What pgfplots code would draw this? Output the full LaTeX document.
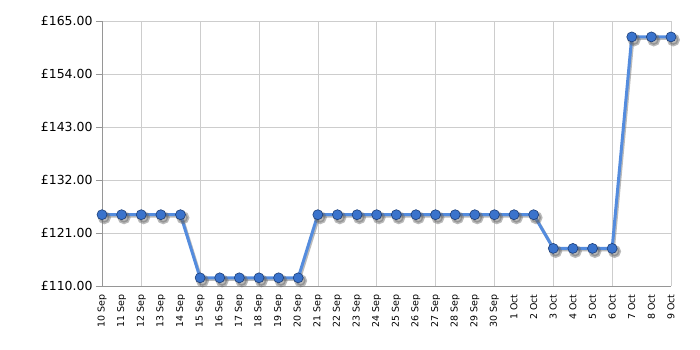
\documentclass[border=0pt]{standalone}
\usepackage{pgfplots}
\pgfplotsset{compat=1.18}
\usepackage{fontspec}
\setmainfont{DejaVu Sans}
\definecolor{linec}{RGB}{84,140,222}
\definecolor{markc}{RGB}{58,115,204}
\definecolor{markd}{RGB}{28,62,120}
\definecolor{axc}{RGB}{150,150,150}
\definecolor{gridc}{RGB}{205,205,205}
\pgfplotstableread{
x y
0 124.8
1 124.8
2 124.8
3 124.8
4 124.8
5 111.7
6 111.7
7 111.7
8 111.7
9 111.7
10 111.7
11 124.8
12 124.8
13 124.8
14 124.8
15 124.8
16 124.8
17 124.8
18 124.8
19 124.8
20 124.8
21 124.8
22 124.8
23 117.8
24 117.8
25 117.8
26 117.8
27 161.7
28 161.7
29 161.7
}\pricedata
\begin{document}
\begin{tikzpicture}
\useasboundingbox (-102bp,-64bp) rectangle (598bp,286bp);
\begin{axis}[
  scale only axis,
  width=569bp, height=265bp,
  xmin=0, xmax=29, ymin=110, ymax=165,
  axis line style={axc},
  axis x line*=bottom, axis y line*=left,
  ytick={110,121,132,143,154,165},
  ymajorgrids, grid style={gridc, line width=0.6pt},
  yticklabel style={font=\fontsize{12.5}{14}\selectfont, /pgf/number format/.cd, fixed, fixed zerofill, precision=2, assume math mode=true},
  yticklabel={£\pgfmathprintnumber{\tick}},
  ytick style={axc, line width=0.6pt},
  ytick align=outside, tick pos=left,
  major tick length=6bp,
  xtick={0,...,29},
  xticklabels={10 Sep,11 Sep,12 Sep,13 Sep,14 Sep,15 Sep,16 Sep,17 Sep,18 Sep,19 Sep,20 Sep,21 Sep,22 Sep,23 Sep,24 Sep,25 Sep,26 Sep,27 Sep,28 Sep,29 Sep,30 Sep,1 Oct,2 Oct,3 Oct,4 Oct,5 Oct,6 Oct,7 Oct,8 Oct,9 Oct},
  xticklabel style={font=\fontsize{9.5}{10}\selectfont, rotate=90, anchor=east, xshift=-5bp},
  x tick style={draw=none},
  extra x ticks={2,5,8,11,14,17,20,23,26,29},
  extra x tick labels={},
  extra x tick style={grid=major, major tick length=6bp, tick style={draw=axc, line width=0.6pt}, tick align=outside},
  clip=false,
]
\addplot[black!60, line width=3bp, opacity=0.45, transform canvas={shift={(1.2bp,-1.5bp)}},
  mark=*, mark size=5bp, mark options={fill=black!60, draw=black!60}] table[x=x,y=y] {\pricedata};
\addplot[linec, line width=3bp, mark=*, mark size=5bp,
  mark options={fill=markc, draw=markd, line width=0.6bp}] table[x=x,y=y] {\pricedata};
\end{axis}
\end{tikzpicture}
\end{document}
